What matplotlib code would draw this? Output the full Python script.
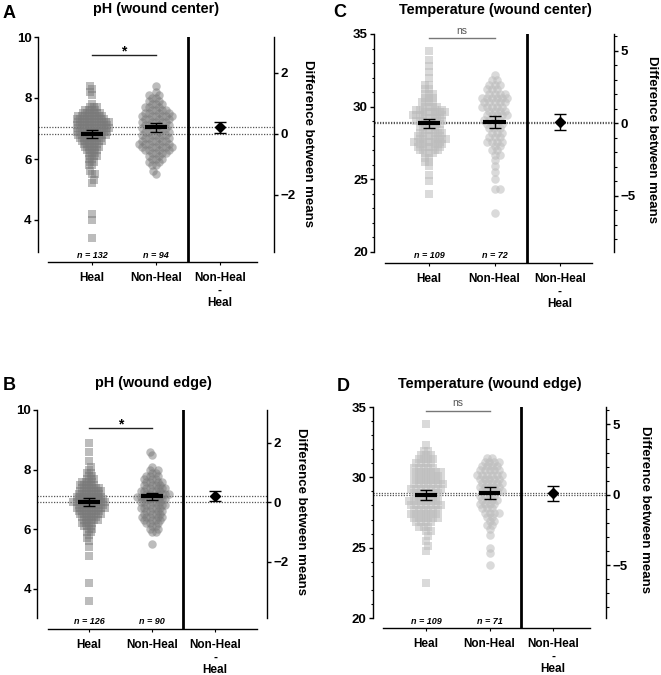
import numpy as np
import matplotlib
matplotlib.use("Agg")
import matplotlib.pyplot as plt

plt.rcParams['font.family'] = ['Liberation Sans', 'DejaVu Sans']

categories = ["Heal", "Non-Heal", "Non-Heal\n-\nHeal"]

# ---------------- Panel A : pH (wound center) ----------------
A_heal_values = [3.4, 4.0, 4.2, 5.2, 5.3, 5.5, 5.6, 5.8, 5.9, 6.0, 6.1, 6.2, 6.3, 6.4, 6.5,
                 6.6, 6.7, 6.8, 6.9, 7.0, 7.1, 7.2, 7.3, 7.4, 7.5, 7.6, 7.7, 7.8, 8.1, 8.2, 8.3, 8.4]
A_heal_counts = [1, 1, 1, 1, 1, 2, 1, 2, 2, 2, 3, 3, 4, 5, 5,
                 7, 7, 9, 10, 10, 10, 10, 9, 8, 6, 4, 3, 1, 1, 1, 1, 1]
A_nonheal_values = [5.5, 5.6, 5.8, 5.9, 6.0, 6.1, 6.2, 6.3, 6.4, 6.5, 6.6, 6.7, 6.8, 6.9, 7.0,
                    7.1, 7.2, 7.3, 7.4, 7.5, 7.6, 7.7, 7.8, 7.9, 8.0, 8.1, 8.2, 8.4]
A_nonheal_counts = [1, 1, 2, 2, 3, 2, 4, 4, 6, 5, 5, 4, 5, 4, 5,
                    4, 5, 4, 6, 4, 4, 3, 3, 2, 2, 2, 1, 1]
A_means = [6.82, 7.04]
A_ci_low = [6.69, 6.90]
A_ci_high = [6.94, 7.17]
A_diff = [0.22, 0.03, 0.40]
A_n = [132, 94]
A_sig = "*"

# ---------------- Panel B : pH (wound edge) ----------------
B_heal_values = [3.6, 4.2, 5.1, 5.4, 5.6, 5.7, 5.8, 5.9, 6.0, 6.1, 6.2, 6.3, 6.4, 6.5, 6.6, 6.7,
                 6.8, 6.9, 7.0, 7.1, 7.2, 7.3, 7.4, 7.5, 7.6, 7.7, 7.8, 7.9, 8.0, 8.1, 8.3, 8.6, 8.9]
B_heal_counts = [1, 1, 1, 1, 1, 1, 1, 2, 2, 3, 4, 5, 5, 7, 7, 9,
                 8, 10, 8, 8, 7, 7, 6, 5, 4, 3, 2, 2, 1, 1, 1, 1, 1]
B_nonheal_values = [5.5, 5.9, 6.0, 6.1, 6.2, 6.3, 6.4, 6.5, 6.6, 6.7, 6.8, 6.9, 7.0,
                    7.1, 7.2, 7.3, 7.4, 7.5, 7.6, 7.7, 7.8, 7.9, 8.0, 8.1, 8.5, 8.6]
B_nonheal_counts = [1, 2, 2, 2, 3, 4, 5, 4, 4, 5, 5, 5, 5,
                    6, 6, 5, 5, 4, 4, 3, 3, 2, 2, 1, 1, 1]
B_means = [6.91, 7.12]
B_ci_low = [6.78, 6.97]
B_ci_high = [7.05, 7.23]
B_diff = [0.21, 0.04, 0.37]
B_n = [126, 90]
B_sig = "*"

# ---------------- Panel C : Temperature (wound center) ----------------
C_heal_values = [24.0, 24.9, 25.3, 25.9, 26.2, 26.5, 26.8, 27.0, 27.2, 27.4, 27.6, 27.8, 28.0,
                 28.2, 28.4, 28.6, 28.8, 29.0, 29.2, 29.4, 29.6, 29.8, 30.0, 30.3, 30.6, 30.9,
                 31.2, 31.5, 32.0, 32.4, 32.8, 33.2, 33.8]
C_heal_counts = [1, 1, 1, 1, 2, 2, 3, 4, 5, 5, 6, 6, 5,
                 5, 4, 3, 5, 5, 5, 6, 6, 5, 4, 4, 3, 3,
                 2, 2, 1, 1, 1, 1, 1]
C_nonheal_values = [22.7, 24.3, 25.0, 25.5, 25.9, 26.3, 26.7, 27.0, 27.3, 27.6, 27.9, 28.2, 28.5,
                    28.8, 29.1, 29.4, 29.7, 30.0, 30.3, 30.6, 30.9, 31.2, 31.5, 31.8, 32.2]
C_nonheal_counts = [1, 2, 1, 1, 1, 1, 2, 2, 2, 4, 3, 3, 3,
                    4, 4, 5, 4, 5, 5, 6, 4, 3, 3, 2, 1]
C_means = [28.86, 28.93]
C_ci_low = [28.52, 28.52]
C_ci_high = [29.16, 29.38]
C_diff = [0.07, -0.50, 0.64]
C_n = [109, 72]
C_sig = "ns"

# ---------------- Panel D : Temperature (wound edge) ----------------
D_heal_values = [22.5, 24.8, 25.1, 25.5, 25.8, 26.2, 26.5, 26.8, 27.1, 27.4, 27.7, 28.0, 28.3,
                 28.6, 28.9, 29.2, 29.5, 29.8, 30.1, 30.4, 30.7, 31.0, 31.3, 31.6, 31.9, 32.3, 33.8]
D_heal_counts = [1, 1, 1, 1, 1, 2, 3, 4, 6, 6, 6, 7, 7,
                 5, 6, 7, 7, 6, 6, 6, 5, 4, 4, 3, 2, 1, 1]
D_nonheal_values = [23.8, 24.6, 25.0, 25.9, 26.3, 26.6, 26.9, 27.2, 27.5, 27.8, 28.1, 28.4,
                    28.7, 29.0, 29.3, 29.6, 29.9, 30.2, 30.5, 30.8, 31.1, 31.4]
D_nonheal_counts = [1, 1, 1, 1, 1, 2, 2, 2, 4, 3, 4, 4,
                    4, 5, 5, 5, 5, 6, 5, 4, 4, 2]
D_means = [28.76, 28.88]
D_ci_low = [28.40, 28.48]
D_ci_high = [29.11, 29.30]
D_diff = [0.10, -0.45, 0.62]
D_n = [109, 71]
D_sig = "ns"

# ---------------- titles / ticks ----------------
titles = ["pH (wound center)", "pH (wound edge)",
          "Temperature (wound center)", "Temperature (wound edge)"]
letters = ["A", "B", "C", "D"]
ph_left_ticks = [4, 6, 8, 10]
ph_right_ticks = [-2, 0, 2]
temp_left_ticks = [20, 25, 30, 35]
temp_right_ticks = [-5, 0, 5]
right_label = "Difference between means"

# ---------------- layout (pixel geometry of each panel) ----------------
W, H = 661, 675
layouts = {
    "A": dict(left=38, right=274, top=37, axis_y=262, spine_bot=252, ytop=10, ppu=30.5,
              xs=(92, 220), line_x=(48, 257), vline=188, title=(156, 13), letter=(3, 18),
              ylab=(308, 143), n_y=256, sig_y=55, sig_txt_y=55),
    "B": dict(left=37, right=267, top=410, axis_y=629, spine_bot=618, ytop=10, ppu=29.83,
              xs=(89, 215), line_x=(48, 257), vline=183, title=(153, 387), letter=(3, 390),
              ylab=(301, 512), n_y=622, sig_y=428, sig_txt_y=428),
    "C": dict(left=374, right=614, top=34, axis_y=263, spine_bot=252, ytop=35, ppu=14.53,
              xs=(429, 560), line_x=(385, 592), vline=527, title=(495, 14), letter=(333, 17),
              ylab=(652, 139), n_y=256, sig_y=37.5, sig_txt_y=33.5),
    "D": dict(left=373, right=606, top=407, axis_y=628, spine_bot=618, ytop=35, ppu=14.07,
              xs=(426, 553), line_x=(383, 590), vline=521, title=(490, 388), letter=(337, 391),
              ylab=(645, 510), n_y=622, sig_y=410.7, sig_txt_y=406),
}
SWARM_HALF_WIDTH_PX = 17.0


def beeswarm(ypix, d):
    order = np.argsort(ypix, kind="stable")
    xs = np.zeros(len(ypix))
    px, py = [], []
    for k, i in enumerate(order):
        y = ypix[i]
        nb = [(a, b) for a, b in zip(px, py) if abs(b - y) < d]
        cands = [0.0]
        for a, b in nb:
            dx = np.sqrt(d * d - (b - y) ** 2)
            cands += [a - dx, a + dx]
        sgn = 1 if k % 2 else -1
        cands = sorted(cands, key=lambda c: (round(abs(c), 6), sgn * c))
        chosen = cands[-1]
        for c in cands:
            if all((c - a) ** 2 + (y - b) ** 2 >= d * d - 1e-6 for a, b in nb):
                chosen = c
                break
        xs[i] = chosen
        px.append(chosen)
        py.append(y)
    return xs


def fit_swarm(ypix, half_width):
    lo, hi = 0.3, 12.0
    for _ in range(22):
        mid = 0.5 * (lo + hi)
        if np.abs(beeswarm(ypix, mid)).max() > half_width:
            hi = mid
        else:
            lo = mid
    return beeswarm(ypix, lo)


def draw_panel(fig, key, heal, nonheal, means, ci_lo, ci_hi, diff, ns, sig, is_ph):
    L = layouts[key]
    left, right, top, axis_y = L["left"], L["right"], L["top"], L["axis_y"]
    ax = fig.add_axes([left / W, 1 - axis_y / H, (right - left) / W, (axis_y - top) / H])
    x0 = L["xs"][0]
    s = (L["xs"][1] - L["xs"][0]) / 2.0
    ppu, ytop = L["ppu"], L["ytop"]

    def xd(p):
        return (p - x0) / s

    def yd(p):
        return ytop - (p - top) / ppu

    ax.set_xlim(xd(left), xd(right))
    ax.set_ylim(yd(axis_y), ytop)

    if is_ph:
        col, alpha = "#7a7a7a", 0.5
        sq, ci = 29, 37
    else:
        col, alpha = "#bdbdbd", 0.55
        sq, ci = 33, 38

    for i, (vals, mk, sz) in enumerate([(heal, "s", sq), (nonheal, "o", ci)]):
        off = fit_swarm(np.asarray(vals) * ppu, SWARM_HALF_WIDTH_PX) / s
        ax.scatter(i + off, vals, marker=mk, s=sz, c=col, alpha=alpha, linewidths=0, zorder=2)

    # dotted reference lines at the two group means
    for m in means:
        ax.axhline(m, ls=(0, (1, 1.2)), color="#555555", lw=0.9, zorder=1)

    # mean bars and CIs
    for i in range(2):
        ax.hlines(means[i], i - 0.17, i + 0.17, color="black", lw=3.0, zorder=5)
        ax.errorbar(i, means[i], yerr=[[means[i] - ci_lo[i]], [ci_hi[i] - means[i]]],
                    fmt="none", ecolor="black", elinewidth=1.0, capsize=4.5, capthick=1.0, zorder=6)

    # separator
    ax.axvline(xd(L["vline"]), color="black", lw=2.0, zorder=3)

    # spines
    for sp in ["top", "right"]:
        ax.spines[sp].set_visible(False)
    ax.spines["left"].set_linewidth(1.0)
    ax.spines["bottom"].set_linewidth(1.0)
    ax.spines["left"].set_bounds(yd(L["spine_bot"]), ytop)
    ax.spines["bottom"].set_bounds(xd(L["line_x"][0]), xd(L["line_x"][1]))

    ax.set_xticks([0, 1, 2])
    ax.set_xticklabels(categories, fontsize=8.5, fontweight="bold", linespacing=1.08)
    ax.tick_params(axis="x", length=2, width=0.8, pad=5.0)

    if is_ph:
        ax.set_yticks(ph_left_ticks)
    else:
        ax.set_yticks(temp_left_ticks)
        ax.set_yticks(np.arange(temp_left_ticks[0], temp_left_ticks[-1] + 1, 1), minor=True)
    ax.tick_params(axis="y", which="major", length=3, width=1.0, pad=1.5, labelsize=9.5)
    ax.tick_params(axis="y", which="minor", length=1.8, width=0.8)
    for t in ax.get_yticklabels():
        t.set_fontweight("bold")

    # n labels
    for i in range(2):
        ax.text(i, yd(L["n_y"]), f"n = {ns[i]}", ha="center", va="center", fontsize=6.5,
                fontstyle="italic", fontweight="bold", zorder=7)

    # significance bar
    ycol = "#222222" if sig == "*" else "#777777"
    ax.plot([0, 1], [yd(L["sig_y"])] * 2, color=ycol, lw=1.0, clip_on=False)
    if sig == "*":
        ax.text(0.5, yd(L["sig_txt_y"]), sig, ha="center", va="baseline", fontsize=10,
                fontweight="bold", clip_on=False)
    else:
        ax.text(0.5, yd(L["sig_txt_y"]), sig, ha="center", va="baseline", fontsize=7.5,
                color="#555555", clip_on=False)

    # right axis: difference between means
    ax2 = ax.twinx()
    lo, hi = ax.get_ylim()
    ax2.set_ylim(lo - means[0], hi - means[0])
    for sp in ["top", "left", "bottom"]:
        ax2.spines[sp].set_visible(False)
    ax2.spines["right"].set_linewidth(1.0)
    ax2.spines["right"].set_bounds(yd(L["spine_bot"]) - means[0], ytop - means[0])
    if is_ph:
        ax2.set_yticks(ph_right_ticks)
    else:
        ax2.set_yticks(temp_right_ticks)
        mn = int(np.ceil(yd(L["spine_bot"]) - means[0]))
        mx = int(np.floor(ytop - means[0]))
        ax2.set_yticks(np.arange(mn, mx + 1, 1), minor=True)
    ax2.tick_params(axis="y", which="major", length=3, width=1.0, pad=1.5, labelsize=9.5)
    ax2.tick_params(axis="y", which="minor", length=1.8, width=0.8)
    for t in ax2.get_yticklabels():
        t.set_fontweight("bold")
    ax2.errorbar(2, diff[0], yerr=[[diff[0] - diff[1]], [diff[2] - diff[0]]], fmt="D",
                 color="black", markersize=5.5, elinewidth=1.0, capsize=4.5, capthick=1.0, zorder=6)

    # texts
    fig.text(L["ylab"][0] / W, 1 - L["ylab"][1] / H, right_label, rotation=270,
             ha="center", va="center", fontsize=9.5, fontweight="bold")
    fig.text(L["title"][0] / W, 1 - L["title"][1] / H, titles["ABCD".index(key)],
             ha="center", va="baseline", fontsize=10.4, fontweight="bold")
    fig.text(L["letter"][0] / W, 1 - L["letter"][1] / H, key,
             ha="left", va="baseline", fontsize=13, fontweight="bold")


fig = plt.figure(figsize=(W / 100, H / 100), dpi=100)
fig.patch.set_facecolor("white")

draw_panel(fig, "A", np.repeat(A_heal_values, A_heal_counts), np.repeat(A_nonheal_values, A_nonheal_counts),
           A_means, A_ci_low, A_ci_high, A_diff, A_n, A_sig, True)
draw_panel(fig, "B", np.repeat(B_heal_values, B_heal_counts), np.repeat(B_nonheal_values, B_nonheal_counts),
           B_means, B_ci_low, B_ci_high, B_diff, B_n, B_sig, True)
draw_panel(fig, "C", np.repeat(C_heal_values, C_heal_counts), np.repeat(C_nonheal_values, C_nonheal_counts),
           C_means, C_ci_low, C_ci_high, C_diff, C_n, C_sig, False)
draw_panel(fig, "D", np.repeat(D_heal_values, D_heal_counts), np.repeat(D_nonheal_values, D_nonheal_counts),
           D_means, D_ci_low, D_ci_high, D_diff, D_n, D_sig, False)

fig.savefig("out.png", dpi=100)
